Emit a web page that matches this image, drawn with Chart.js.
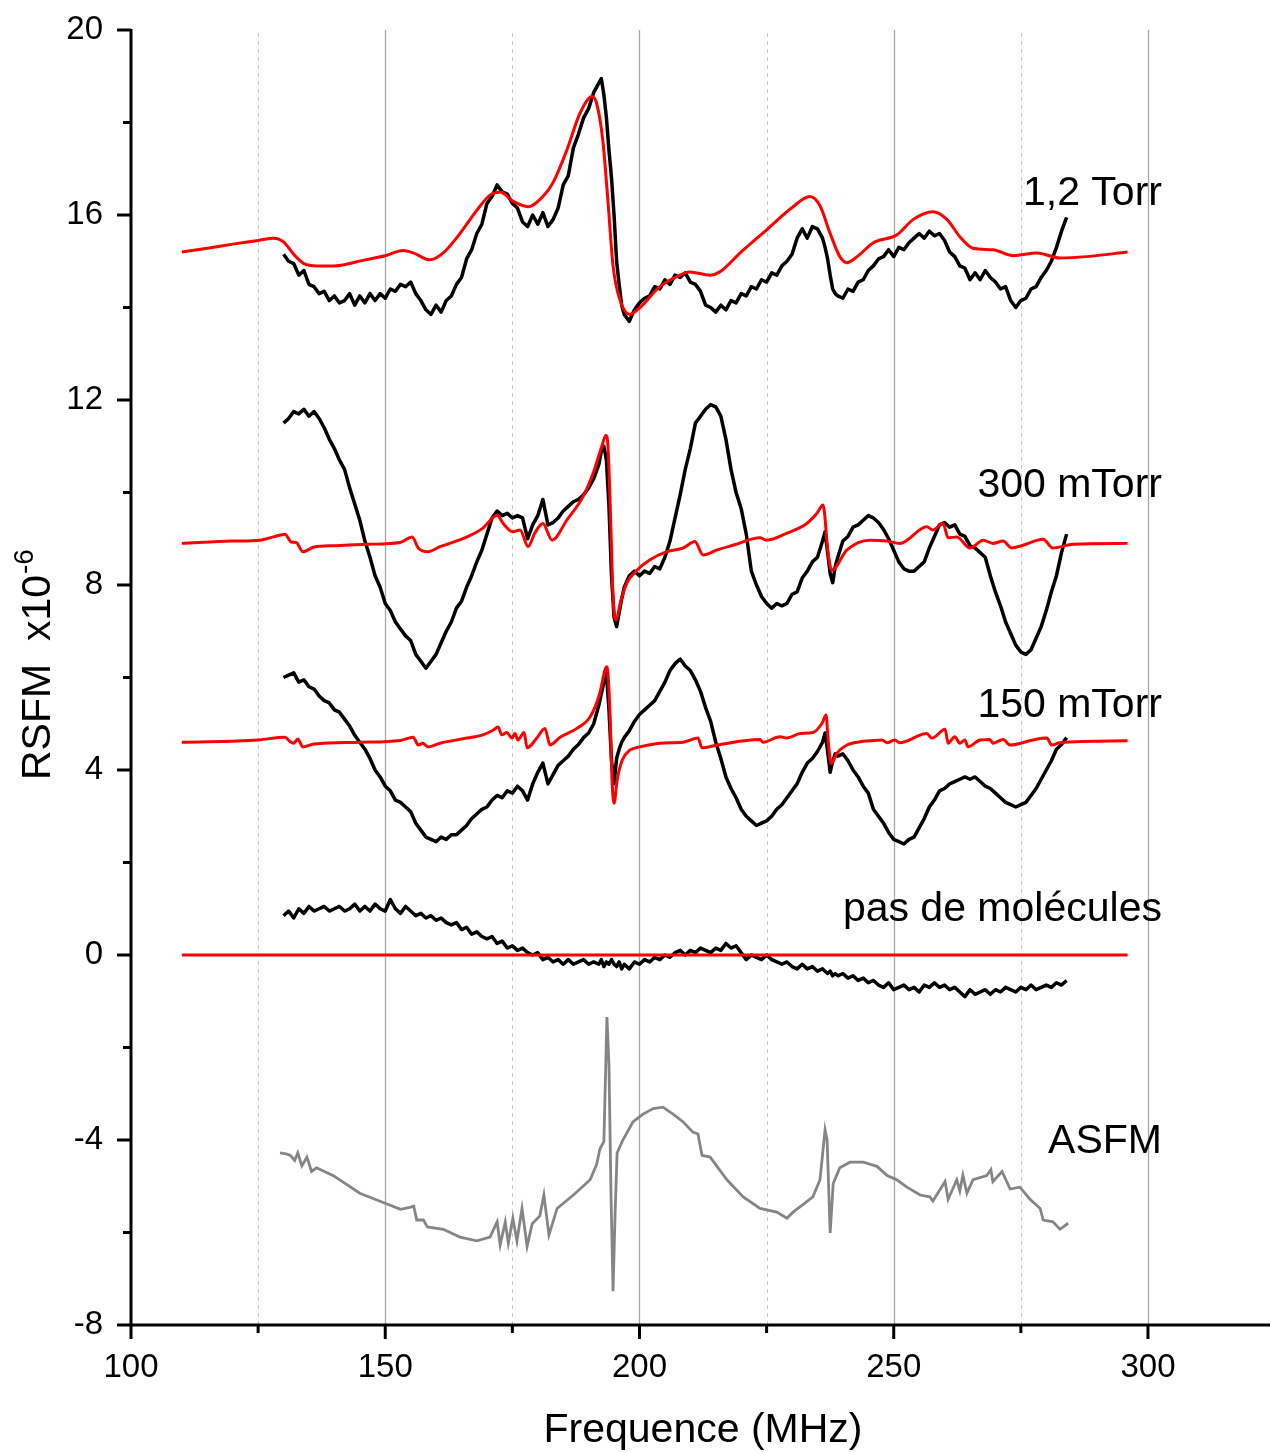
<!DOCTYPE html>
<html>
<head>
<meta charset="utf-8">
<script src="https://cdn.jsdelivr.net/npm/chart.js@4/dist/chart.umd.min.js"></script>
<style>
  html, body { margin: 0; padding: 0; background: #fff; }
  #wrap { width: 1271px; height: 1452px; }
</style>
</head>
<body>
<div id="wrap"><canvas id="chart" width="1271" height="1452"></canvas></div>
<script>
// frequency grid of the measured (black) traces, MHz
const freqGrid = [
  130,131,132,133,134,135,136,137,138,139,
  140,141,142,143,144,145,146,147,148,149,
  150,151,152,153,154,155,156,157,158,159,
  160,161,162,163,164,165,166,167,168,169,
  170,171,172,173,174,175,176,177,178,179,
  180,181,182,183,184,185,186,187,188,189,
  190,191,
  192,192.5,193,193.5,194,194.5,195,195.5,196,196.5,197,
  198,199,
  200,201,202,203,204,205,206,207,208,209,
  210,211,212,213,214,215,216,217,218,219,
  220,221,222,223,224,225,226,227,228,229,
  230,231,232,233,234,235,
  236,236.5,237,237.5,238,238.5,239,
  240,241,242,243,244,245,246,247,248,249,
  250,251,252,253,254,255,256,257,258,259,
  260,261,262,263,264,265,266,267,268,269,
  270,271,272,273,274,275,276,277,278,279,
  280,281,282,283,284
];

// measured RSFM, 1,2 Torr
const torr12Meas = [
  15.15,15.0,14.95,14.7,14.8,14.5,14.45,14.3,14.35,14.15,
  14.25,14.1,14.15,14.3,14.05,14.25,14.1,14.3,14.15,14.3,
  14.2,14.4,14.35,14.5,14.45,14.55,14.3,14.15,13.95,13.85,
  14.05,13.9,14.15,14.25,14.5,14.65,15.05,15.25,15.6,15.8,
  16.25,16.4,16.65,16.5,16.45,16.25,16.15,15.85,15.75,16.0,
  15.8,16.05,15.75,15.9,16.15,16.65,16.85,17.45,17.75,18.1,
  18.3,18.65,
  18.85,18.95,18.6,18.1,17.4,16.8,16.0,15.0,14.5,14.05,13.85,
  13.7,13.95,
  14.1,14.2,14.25,14.45,14.4,14.6,14.5,14.7,14.65,14.75,
  14.55,14.5,14.35,14.05,14.0,13.9,14.05,13.95,14.15,14.1,
  14.3,14.25,14.45,14.4,14.6,14.55,14.75,14.7,14.9,15.0,
  15.15,15.5,15.7,15.5,15.75,15.7,
  15.5,15.3,15.05,14.7,14.4,14.3,14.25,
  14.2,14.4,14.35,14.55,14.6,14.8,14.9,15.05,15.1,15.25,
  15.1,15.3,15.25,15.4,15.5,15.6,15.5,15.65,15.55,15.6,
  15.45,15.2,15.1,14.9,14.85,14.6,14.75,14.6,14.8,14.65,
  14.55,14.4,14.45,14.15,14.0,14.15,14.2,14.4,14.45,14.65,
  14.8,15.0,15.3,15.65,15.95
];

// measured RSFM, 300 mTorr
const torr300Meas = [
  11.5,11.6,11.75,11.7,11.8,11.65,11.75,11.6,11.4,11.15,
  10.95,10.7,10.5,10.1,9.75,9.4,8.95,8.6,8.2,7.95,
  7.6,7.45,7.2,7.05,6.9,6.8,6.5,6.35,6.2,6.35,
  6.5,6.75,7.0,7.2,7.5,7.65,7.95,8.2,8.5,8.75,
  9.1,9.45,9.6,9.5,9.55,9.45,9.5,9.45,9.0,9.3,
  9.5,9.85,9.3,9.35,9.45,9.6,9.7,9.8,9.85,9.95,
  10.1,10.3,
  10.6,10.9,11.0,10.7,9.7,8.2,7.3,7.1,7.4,7.7,7.95,
  8.2,8.3,
  8.2,8.3,8.25,8.4,8.35,8.6,8.95,9.45,9.95,10.5,
  10.95,11.5,11.65,11.8,11.9,11.85,11.65,11.15,10.5,10.0,
  9.65,9.1,8.3,8.0,7.75,7.6,7.5,7.6,7.55,7.6,
  7.8,7.85,8.15,8.3,8.5,8.6,
  8.95,9.15,8.7,8.25,8.05,8.4,8.6,
  8.95,9.05,9.25,9.3,9.4,9.5,9.45,9.35,9.2,9.0,
  8.75,8.5,8.35,8.3,8.3,8.4,8.5,8.8,9.05,9.3,
  9.35,9.25,9.3,9.1,9.05,8.85,8.8,8.7,8.6,8.2,
  7.85,7.55,7.2,6.95,6.7,6.55,6.5,6.6,6.85,7.1,
  7.45,7.85,8.2,8.7,9.1
];

// measured RSFM, 150 mTorr
const torr150Meas = [
  6.0,6.05,6.1,5.9,5.95,5.8,5.75,5.6,5.5,5.45,
  5.3,5.25,5.1,4.95,4.75,4.6,4.45,4.25,4.0,3.85,
  3.65,3.55,3.35,3.3,3.2,3.1,2.85,2.7,2.55,2.5,
  2.45,2.55,2.5,2.6,2.6,2.7,2.8,2.95,3.05,3.15,
  3.2,3.35,3.45,3.4,3.55,3.5,3.65,3.55,3.35,3.7,
  3.95,4.15,3.7,3.9,4.1,4.2,4.3,4.45,4.55,4.7,
  4.8,5.0,
  5.4,5.65,5.9,6.1,5.3,4.2,3.7,4.25,4.45,4.6,4.7,
  4.85,5.05,
  5.2,5.3,5.4,5.5,5.7,5.9,6.15,6.3,6.4,6.25,
  6.15,5.95,5.7,5.35,5.05,4.6,4.25,3.85,3.6,3.4,
  3.15,3.0,2.9,2.8,2.85,2.9,3.0,3.15,3.25,3.4,
  3.55,3.7,3.95,4.15,4.25,4.4,
  4.6,4.8,4.4,3.95,4.2,4.35,4.3,
  4.35,4.2,4.0,3.85,3.65,3.5,3.15,3.0,2.85,2.65,
  2.5,2.45,2.4,2.5,2.55,2.75,2.95,3.2,3.35,3.55,
  3.6,3.7,3.75,3.8,3.85,3.8,3.85,3.75,3.65,3.6,
  3.5,3.4,3.3,3.25,3.2,3.25,3.3,3.45,3.6,3.8,
  4.0,4.2,4.45,4.55,4.7
];

// measured RSFM, no molecules
const noMolMeas = [
  0.85,0.95,0.8,1.0,0.9,1.05,0.95,1.0,1.05,0.95,
  1.0,1.05,0.95,1.0,1.1,0.95,1.05,0.95,1.1,1.0,
  0.95,1.2,1.0,0.9,1.05,0.95,0.85,0.9,0.8,0.85,
  0.75,0.8,0.7,0.65,0.7,0.55,0.6,0.45,0.5,0.4,
  0.35,0.4,0.25,0.3,0.15,0.2,0.1,0.15,0.05,0.0,
  0.05,-0.1,-0.05,-0.15,-0.1,-0.2,-0.1,-0.2,-0.15,-0.1,
  -0.2,-0.15,
  -0.2,-0.1,-0.25,-0.15,-0.2,-0.1,-0.2,-0.25,-0.15,-0.3,-0.2,
  -0.3,-0.15,
  -0.2,-0.1,-0.15,-0.05,-0.1,0.0,-0.05,0.05,0.1,0.0,
  0.1,0.05,0.15,0.1,0.05,0.15,0.1,0.25,0.15,0.2,
  0.05,-0.1,0.0,-0.05,-0.1,0.0,-0.1,-0.15,-0.2,-0.15,
  -0.25,-0.3,-0.2,-0.3,-0.25,-0.35,
  -0.3,-0.35,-0.4,-0.35,-0.45,-0.4,-0.45,
  -0.4,-0.5,-0.45,-0.55,-0.5,-0.6,-0.55,-0.65,-0.7,-0.6,
  -0.75,-0.7,-0.65,-0.75,-0.7,-0.8,-0.65,-0.7,-0.6,-0.7,
  -0.65,-0.75,-0.7,-0.8,-0.9,-0.75,-0.85,-0.8,-0.75,-0.85,
  -0.75,-0.8,-0.7,-0.75,-0.8,-0.7,-0.75,-0.65,-0.75,-0.7,
  -0.65,-0.7,-0.6,-0.65,-0.55
];

// simulated RSFM (red), 1,2 Torr
const torr12SimX = [110,115,120,125,128,130,132,134,136.6,140,146,150,153.5,155.5,158.8,161.4,164.7,168,170.6,172.6,
  175.1,178.1,181,183,185.7,188.3,190.7,191.6,192.8,193.8,194.8,196.2,198.1,200.1,204,207.4,209.9,213.9,215.8,219.8,
  225,230.2,233.5,235.5,237.5,239.4,240.8,242.8,246,250.6,253.8,257.7,260.5,263,265.6,269.5,273.5,278.2,282.7,288,296];
const torr12SimY = [15.2,15.28,15.37,15.45,15.5,15.42,15.15,14.95,14.9,14.9,15.03,15.12,15.23,15.18,15.03,15.18,15.6,16.1,16.43,16.5,
  16.3,16.18,16.4,16.7,17.4,18.2,18.56,18.4,17.6,16.3,14.9,14.15,13.85,14.0,14.45,14.67,14.77,14.7,14.77,15.18,
  15.68,16.18,16.4,16.2,15.6,15.1,14.97,15.1,15.4,15.57,15.9,16.07,15.9,15.53,15.28,15.25,15.12,15.18,15.07,15.1,15.2];

// simulated RSFM (red), 300 mTorr
const torr300SimX = [110,120,125.4,128,130.3,131.5,132.5,133.8,136,140,146.4,152.9,155.3,156.5,158.4,160.8,166.1,169.2,172,173.2,
  175.1,176.5,178.1,179.4,181,182.8,185.7,188.9,190.9,192.6,193.4,193.8,194.4,194.8,195.4,196.2,197.5,199.5,202,205.4,
  208.6,210.9,212.5,215.3,218.4,223.7,225,229,232.9,234.9,236.1,237.1,237.8,240.8,245.3,248.7,251.2,256.5,257.7,259.7,
  260.7,262.4,265,267.6,269.5,271.5,273.2,275.4,279.4,281.3,285.3,296];
const torr300SimY = [8.9,8.95,8.97,9.04,9.1,8.93,8.92,8.72,8.82,8.85,8.88,8.92,9.04,8.8,8.72,8.83,9.04,9.23,9.51,9.33,
  9.15,9.19,8.83,9.12,9.33,8.97,9.4,9.91,10.42,11.0,11.24,11.0,9.19,7.74,7.24,7.6,8.04,8.32,8.54,8.72,
  8.8,8.94,8.65,8.76,8.86,9.02,8.97,9.12,9.33,9.55,9.73,8.68,8.32,8.76,8.97,8.95,8.9,9.26,9.19,9.33,
  9.02,9.04,8.8,8.97,8.9,8.95,8.8,8.86,8.99,8.8,8.88,8.9];

// simulated RSFM (red), 150 mTorr
const torr150SimX = [110,125,130.3,131.3,132,132.8,133.8,136,145,153,155.5,156.5,157.4,158.4,160.8,166.1,169.2,171.2,172.2,172.9,
  173.9,174.9,175.5,176.1,177.3,177.9,179.8,181.4,182.4,184.4,187.7,190.3,192.2,193.2,193.6,194.2,194.6,195,195.6,196.6,
  198.1,200.1,204,208.6,211.5,212.3,215.3,223.7,224.3,227.6,229,231.6,234.1,235.9,236.7,237.1,237.7,238.8,240.8,243.4,
  245.3,247.7,248.7,250.2,251.2,256.5,257.5,260.1,260.7,262,263,264,264.6,267,268.9,269.5,271.5,272.9,277.4,280.1,
  281.1,282.7,296];
const torr150SimY = [4.6,4.65,4.71,4.61,4.58,4.67,4.5,4.56,4.6,4.64,4.71,4.54,4.58,4.5,4.58,4.69,4.76,4.86,4.93,4.76,
  4.81,4.69,4.79,4.65,4.81,4.48,4.69,4.9,4.54,4.71,4.9,5.15,5.66,6.16,6.23,5.23,3.78,3.28,3.78,4.21,
  4.43,4.5,4.58,4.6,4.69,4.48,4.54,4.66,4.6,4.72,4.69,4.79,4.81,5.01,5.19,4.65,4.14,4.36,4.54,4.61,
  4.63,4.65,4.59,4.65,4.59,4.79,4.69,4.88,4.58,4.72,4.58,4.65,4.5,4.65,4.66,4.58,4.66,4.54,4.65,4.69,
  4.54,4.59,4.63];

// simulated RSFM (red), no molecules
const noMolSimX = [110, 296];
const noMolSimY = [0, 0];

// ASFM reference trace (grey)
const asfmX = [129.3,130.5,131.3,132.2,132.8,133.6,134.6,135.5,136.5,139.8,145,149.6,153,155,155.6,156.2,157.5,158.3,161.4,164.7,
  168,170.6,172,172.6,173.6,174.2,175.1,175.9,176.9,177.9,178.9,180.4,181.2,182.2,183.8,187,190.3,191.6,192.2,193,
  193.6,194,194.4,194.8,195.2,195.6,196.6,198.7,200.7,202.7,204.6,206.6,208.6,210.5,211.5,212.3,213.9,217.2,220.4,223.7,
  227,229,230.2,232.2,234.1,235.5,236.5,236.9,237.5,238.1,239.4,241.4,244,246.7,248.7,250.6,252.6,255.2,257.1,257.7,
  260.1,260.7,262.4,263,263.6,264.4,265.6,268.3,269.1,269.5,271.3,272.9,274.8,276.8,278.8,279.4,281.3,282.7,284.3];
const asfmY = [-4.28,-4.3,-4.33,-4.44,-4.28,-4.56,-4.37,-4.68,-4.6,-4.77,-5.15,-5.35,-5.5,-5.45,-5.43,-5.73,-5.73,-5.88,-5.93,-6.1,
  -6.18,-6.1,-5.77,-6.27,-5.77,-6.23,-5.69,-6.18,-5.48,-6.3,-5.81,-5.64,-5.19,-6.05,-5.48,-5.19,-4.86,-4.52,-4.2,-4.03,
  -1.34,-2.38,-5.19,-7.27,-5.6,-4.28,-4.03,-3.61,-3.44,-3.32,-3.29,-3.44,-3.61,-3.83,-3.87,-4.33,-4.37,-4.86,-5.23,-5.48,
  -5.56,-5.69,-5.56,-5.39,-5.23,-4.86,-3.78,-4.0,-6.01,-4.94,-4.6,-4.48,-4.48,-4.57,-4.77,-4.86,-5.02,-5.19,-5.23,-5.32,
  -4.9,-5.28,-4.86,-5.1,-4.76,-5.15,-4.86,-4.77,-4.64,-4.9,-4.68,-5.06,-5.02,-5.28,-5.48,-5.73,-5.77,-5.93,-5.8];

// curve labels and their anchor (right end, baseline) in data units
const curveLabels = ['1,2 Torr', '300 mTorr', '150 mTorr', 'pas de molécules', 'ASFM'];
const labelAnchorY = [16.22, 9.9, 5.15, 0.74, -4.28];
const labelAnchorX = 302.75;

const FONT = '"Liberation Sans", Arial, Helvetica, sans-serif';

function zip(xs, ys) {
    return xs.map((x, i) => ({ x: x, y: ys[i] }));
}

function measured(ys) {
    return {
        data: zip(freqGrid, ys),
        borderColor: '#000000',
        borderWidth: 3.5,
        borderJoinStyle: 'round',
        tension: 0,
        order: 2
    };
}

function simulated(xs, ys) {
    return {
        data: zip(xs, ys),
        borderColor: '#ff0000',
        borderWidth: 3,
        cubicInterpolationMode: 'monotone',
        order: 1
    };
}

// grid lines, axis lines, ticks and text
const decor = {
    id: 'decor',
    beforeDatasetsDraw(chart) {
        const { ctx, chartArea: a, scales: { x } } = chart;
        ctx.save();
        [125, 175, 225, 275].forEach(v => {
            const px = Math.round(x.getPixelForValue(v)) + 0.5;
            ctx.strokeStyle = '#c8c8c8';
            ctx.lineWidth = 1;
            ctx.setLineDash([4, 4]);
            ctx.beginPath(); ctx.moveTo(px, a.top + 3); ctx.lineTo(px, a.bottom); ctx.stroke();
        });
        ctx.setLineDash([]);
        [150, 200, 250, 300].forEach(v => {
            const px = Math.round(x.getPixelForValue(v)) + 0.5;
            ctx.strokeStyle = '#a8a8a8';
            ctx.lineWidth = 1.3;
            ctx.beginPath(); ctx.moveTo(px, a.top); ctx.lineTo(px, a.bottom); ctx.stroke();
        });
        ctx.restore();
    },
    afterDatasetsDraw(chart) {
        const { ctx, chartArea: a, scales: { x, y } } = chart;
        ctx.save();
        ctx.strokeStyle = '#000';
        ctx.lineWidth = 3;
        ctx.beginPath();
        ctx.moveTo(a.left, a.top - 1);
        ctx.lineTo(a.left, a.bottom);
        ctx.lineTo(a.right, a.bottom);
        ctx.stroke();
        // y ticks
        for (let v = -8; v <= 20; v += 2) {
            const py = y.getPixelForValue(v);
            const len = (v % 4 === 0) ? 14 : 8;
            ctx.beginPath(); ctx.moveTo(a.left - len, py); ctx.lineTo(a.left, py); ctx.stroke();
        }
        // x ticks
        for (let v = 100; v <= 300; v += 25) {
            const px = x.getPixelForValue(v);
            const len = (v % 50 === 0) ? 14 : 8;
            ctx.beginPath(); ctx.moveTo(px, a.bottom); ctx.lineTo(px, a.bottom + len); ctx.stroke();
        }
        ctx.restore();
    },
    afterDraw(chart) {
        const { ctx, scales: { x, y } } = chart;
        ctx.save();
        ctx.fillStyle = '#000';
        ctx.font = '41px ' + FONT;
        ctx.textBaseline = 'alphabetic';

        ctx.textAlign = 'right';
        curveLabels.forEach((t, i) => {
            ctx.fillText(t, x.getPixelForValue(labelAnchorX), y.getPixelForValue(labelAnchorY[i]));
        });

        // x title
        ctx.textAlign = 'center';
        ctx.fillText('Frequence (MHz)', 703, 1442);

        // y title with superscript
        ctx.translate(50, 780);
        ctx.rotate(-Math.PI / 2);
        ctx.textAlign = 'left';
        const main = 'RSFM  x10';
        ctx.fillText(main, 0, 0);
        const w = ctx.measureText(main).width;
        ctx.font = '28px ' + FONT;
        ctx.fillText('-6', w + 1, -17);
        ctx.restore();
    }
};

new Chart(document.getElementById('chart'), {
    type: 'line',
    data: {
        datasets: [
            measured(torr12Meas),
            simulated(torr12SimX, torr12SimY),
            measured(torr300Meas),
            simulated(torr300SimX, torr300SimY),
            measured(torr150Meas),
            simulated(torr150SimX, torr150SimY),
            measured(noMolMeas),
            simulated(noMolSimX, noMolSimY),
            {
                data: zip(asfmX, asfmY),
                borderColor: '#858585',
                borderWidth: 2.8,
                tension: 0,
                order: 2
            }
        ]
    },
    options: {
        responsive: false,
        animation: false,
        layout: { padding: { top: 30, right: 1, left: 0, bottom: 0 } },
        elements: { point: { radius: 0 } },
        plugins: {
            legend: { display: false },
            tooltip: { enabled: false }
        },
        scales: {
            x: {
                type: 'linear',
                min: 100,
                max: 324,
                grid: { display: false, drawTicks: false },
                border: { display: false },
                ticks: {
                    stepSize: 50,
                    includeBounds: false,
                    padding: 23,
                    maxRotation: 0,
                    color: '#000',
                    font: { family: FONT, size: 33 }
                },
                afterFit: s => { s.height = 127; s.paddingLeft = 0; s.paddingRight = 0; }
            },
            y: {
                type: 'linear',
                min: -8,
                max: 20,
                grid: { display: false, drawTicks: false },
                border: { display: false },
                ticks: {
                    stepSize: 4,
                    padding: 28,
                    color: '#000',
                    font: { family: FONT, size: 33 }
                },
                afterFit: s => { s.width = 131; s.paddingTop = 0; s.paddingBottom = 0; }
            }
        }
    },
    plugins: [decor]
});
</script>
</body>
</html>
